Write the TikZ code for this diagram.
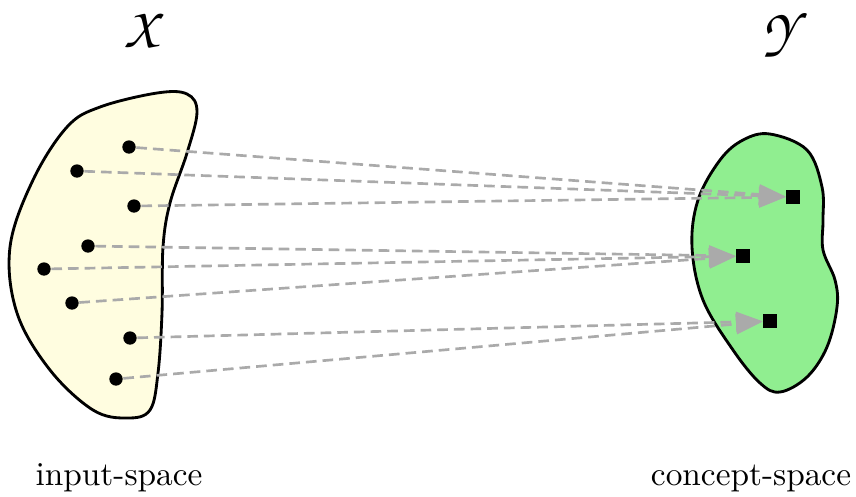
\documentclass[tikz,border=0pt]{standalone}
\usepackage{amsmath,amssymb}
\usetikzlibrary{arrows.meta}

\DeclareMathAlphabet{\mathpzc}{OT1}{pzc}{m}{it}
\definecolor{inyellow}{HTML}{FFFDE0}
\definecolor{outgreen}{HTML}{90EE90}
\definecolor{mapgray}{HTML}{AAAAAA}

\begin{document}
\begin{tikzpicture}[x=0.3pt,y=-0.3pt,
	every node/.style={font=\normalsize},
	pt/.style={circle,fill=black,inner sep=0pt,minimum size=4pt},
	sq/.style={rectangle,fill=black,inner sep=0pt,minimum size=4pt},
	map/.style={draw=mapgray,line width=0.8pt,dash pattern=on 3.2pt off 1.8pt,
		-{Triangle[length=8pt,width=6pt]}}]
	\useasboundingbox (0,0) rectangle (856,496);
	% the two spaces
	\draw[line width=0.85pt, fill=inyellow] plot[smooth cycle, tension=0.6] coordinates {
		(187,94) (157,93) (100,107) (67,127) (33,180) (10,247) (17,313) (50,370)
		(93,410) (127,418) (150,410) (158,373) (162,313) (163,247) (170,203)
		(187,153) (197,112)};
	\draw[line width=0.85pt, fill=outgreen] plot[smooth cycle, tension=0.6] coordinates {
		(770,134) (807,150) (822,187) (823,220) (823,250) (835,280) (837,307)
		(827,347) (807,377) (780,392) (760,383) (733,350) (703,300) (692,247)
		(698,200) (720,160) (743,140)};
	\node at (146,30) {\LARGE$\mathpzc{X}$};
	\node at (786,35) {\LARGE$\mathpzc{Y}$};
	\node at (119,478) {input-space};
	\node at (751,478) {concept-space};
	% inputs
	\node[pt] (x1) at (129,147) {};
	\node[pt] (x2) at (77,171) {};
	\node[pt] (x3) at (134,206) {};
	\node[pt] (x4) at (88,246) {};
	\node[pt] (x5) at (44,269) {};
	\node[pt] (x6) at (72,303) {};
	\node[pt] (x7) at (130,338) {};
	\node[pt] (x8) at (116,379) {};
	% concepts
	\node[sq] (y1) at (793,197) {};
	\node[sq] (y2) at (743,256) {};
	\node[sq] (y3) at (770,321) {};
	% mapping
	\draw[map] (x1) -- (y1);
	\draw[map] (x2) -- (y1);
	\draw[map] (x3) -- (y1);
	\draw[map] (x4) -- (y2);
	\draw[map] (x5) -- (y2);
	\draw[map] (x6) -- (y2);
	\draw[map] (x7) -- (y3);
	\draw[map] (x8) -- (y3);
\end{tikzpicture}
\end{document}
